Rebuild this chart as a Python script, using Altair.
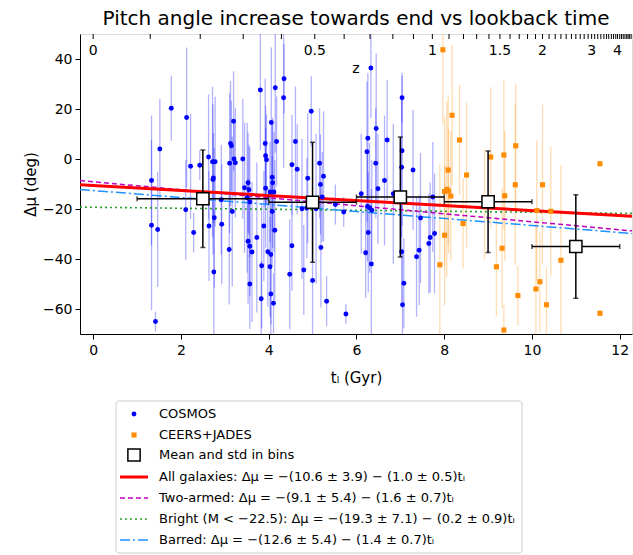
import altair as alt
import pandas as pd

# ---------------- data ----------------
cosmos_t = [1.33, 1.33, 1.42, 1.47, 1.52, 1.78, 2.13, 2.22, 2.11, 2.29, 2.43, 2.64, 2.63,
            2.72, 2.78, 2.74, 2.73, 2.76, 2.93, 2.75, 2.92, 3.20, 3.13, 3.15, 3.11, 3.21, 3.24,
            3.17, 3.10, 3.41, 3.53, 3.45, 3.55, 3.51, 3.57, 3.53, 3.57, 3.62, 3.57, 3.73, 3.81,
            3.83, 3.84, 3.89, 3.92, 3.93, 3.95, 3.93, 3.98, 4.05, 4.03, 4.05, 4.11, 4.06, 4.08,
            4.09, 4.03, 4.12, 4.14, 4.08, 4.15, 4.18, 4.35, 4.34, 4.53, 4.53, 4.48,
            4.61, 4.65, 4.97, 4.89, 4.76, 4.87, 4.80, 5.00, 5.16, 5.25, 5.18, 5.22, 5.08, 5.19,
            5.32, 5.52, 5.71, 5.76, 6.11, 6.26, 6.24, 6.33, 6.45, 6.44, 6.25, 6.30, 6.35, 6.27,
            6.21, 6.34, 6.49, 6.70, 6.64, 6.84, 7.04, 7.04, 7.03, 7.03, 7.08, 7.05, 7.29, 7.46,
            7.43, 7.37, 7.68, 7.65, 7.78, 7.74]
cosmos_mu = [-8.6, -26.5, -65.0, -28.2, 4.0, 20.3, 16.6, -2.9, -20.3, -29.4, -2.5, -26.8, 0.8,
             -1.1, -1.1, -7.6, -8.2, -23.5, -26.1, -45.2, -16.3, 15.1, 6.2, 5.3, -1.7, 0.0, -1.5,
             -21.0, -36.2, 0.0, -9.5, -11.5, -12.3, -15.5, -17.2, -32.9, -34.9, -37.2, -50.0, -31.4, 27.6,
             -55.9, -42.7, -26.8, 6.2, 1.3, -0.3, -11.7, -37.1, -38.2, -43.1, -54.0, -57.7, 14.6, -7.3,
             -9.5, -13.2, -13.2, -28.5, -21.0, 28.5, 7.0, 32.1, 24.5, -2.3, -34.7, -46.1,
             7.0, -4.1, 19.1, -7.7, -19.9, -19.6, -44.4, -48.6, -1.7, -6.9, -10.2, -15.2, -19.9, -35.4,
             -56.9, -18.2, -21.2, -62.0, -13.9, 8.3, 2.9, 36.4, 12.2, -1.7, -19.0, -19.5, -20.5, -29.4,
             -37.5, -42.0, -11.9, 7.6, -8.6, -13.9, 24.5, 3.3, -3.3, -37.1, -49.7, -58.3, -4.4, -23.6,
             -36.5, -39.1, -31.4, -33.8, -29.8, -15.2]
cosmos_err = [26, 34, 4, 23, 20, 13, 28, 21, 20, 8, 6, 22, 25,
              30, 26, 18, 30, 28, 24, 25, 22, 20, 25, 18, 28, 15, 22,
              30, 22, 24, 20, 26, 18, 30, 22, 25, 20, 28, 18, 30, 24,
              15, 25, 22, 26, 20, 18, 24, 22, 28, 20, 16, 12, 30, 22,
              26, 20, 24, 28, 22, 26, 18, 14, 28, 20, 18, 22,
              22, 18, 14, 26, 28, 20, 18, 24, 22, 26, 20, 18, 30, 24,
              10, 8, 6, 4, 24, 26, 28, 20, 30, 22, 22, 26, 20, 24,
              18, 30, 22, 24, 26, 28, 10, 30, 28, 20, 18, 22, 24, 26,
              22, 24, 22, 20, 24, 22]

ceers_t = [7.97, 8.18, 8.35, 8.09, 8.51, 8.06, 8.01, 8.15, 8.10, 8.43, 8.01, 7.90, 8.92,
           9.06, 9.36, 9.63, 9.62, 9.38, 9.32, 9.19, 9.68, 9.36, 10.11, 10.24, 10.43, 10.18,
           10.09, 10.33, 10.66, 11.55, 11.55]
ceers_mu = [43.7, 17.5, 7.6, -4.4, -6.4, -12.2, -13.0, -14.8, -12.8, -25.8, -30.5, -42.3, -18.2,
            0.8, 1.6, 5.3, -10.3, -14.7, -35.7, -43.1, -54.6, -68.4, -20.6, -10.3, -20.9, -49.1,
            -52.0, -58.3, -40.5, -1.9, -61.7]
ceers_err = [30, 28, 22, 30, 29, 35, 30, 26, 25, 18, 28, 40, 22,
             28, 30, 25, 32, 26, 24, 20, 12, 10, 28, 32, 26, 20,
             26, 15, 38, 1, 1]

bin_t = [2.5, 5.0, 7.0, 9.0, 11.0]
bin_mu = [-15.9, -17.3, -15.2, -17.1, -35.0]
bin_t_std = [1.5, 1.0, 1.0, 1.0, 1.0]
bin_mu_std = [19.5, 24.0, 24.0, 20.3, 20.7]

fit_names = ["All galaxies", "Two-armed", "Bright", "Barred"]
fit_intercept = [-10.6, -9.1, -19.3, -12.6]
fit_slope = [-1.0, -1.6, -0.2, -1.4]

# redshift ticks of the top axis (z = 0 ... 4.8 in steps of 0.1) as lookback time (Gyr)
z_tick_t = [0.0, 1.30, 2.44, 3.42, 4.29, 5.05, 5.72, 6.31, 6.83, 7.30,
            7.73, 8.11, 8.44, 8.74, 9.02, 9.27, 9.50, 9.71, 9.90, 10.08,
            10.24, 10.39, 10.53, 10.66, 10.78, 10.90, 11.00, 11.10, 11.19, 11.28,
            11.36, 11.43, 11.50, 11.57, 11.64, 11.70, 11.75, 11.81, 11.86, 11.91,
            11.95, 12.00, 12.04, 12.08, 12.12, 12.16, 12.19, 12.22, 12.26]
z_label_text = ["0", "0.5", "1", "1.5", "2", "3", "4"]
z_label_t = [0.0, 5.05, 7.73, 9.27, 10.24, 11.36, 11.95]

title_text = "Pitch angle increase towards end vs lookback time"
legend_labels = [
    "COSMOS",
    "CEERS+JADES",
    "Mean and std in bins",
    "All galaxies: Δμ = −(10.6 ± 3.9) − (1.0 ± 0.5)tₗ",
    "Two-armed: Δμ = −(9.1 ± 5.4) − (1.6 ± 0.7)tₗ",
    "Bright (M < −22.5): Δμ = −(19.3 ± 7.1) − (0.2 ± 0.9)tₗ",
    "Barred: Δμ = −(12.6 ± 5.4) − (1.4 ± 0.7)tₗ",
]

# ---------------- layout / style ----------------
W, H = 552, 300
PAD_L, PAD_T = 80, 34
IMG_W, IMG_H = 633, 555
XDOM = [-0.3, 12.28]
YDOM = [-70, 50]
FONT = "DejaVu Sans"
BLUE = "#0000ff"
ORANGE = "#ff8c00"

cos = pd.DataFrame({"t": cosmos_t, "mu": cosmos_mu, "err": cosmos_err})
cos["lo"] = cos["mu"] - cos["err"]
cos["hi"] = cos["mu"] + cos["err"]
cer = pd.DataFrame({"t": ceers_t, "mu": ceers_mu, "err": ceers_err})
cer["lo"] = cer["mu"] - cer["err"]
cer["hi"] = cer["mu"] + cer["err"]
bins = pd.DataFrame({"t": bin_t, "mu": bin_mu, "ts": bin_t_std, "ms": bin_mu_std})
bins["tlo"] = bins["t"] - bins["ts"]
bins["thi"] = bins["t"] + bins["ts"]
bins["mlo"] = bins["mu"] - bins["ms"]
bins["mhi"] = bins["mu"] + bins["ms"]

fit_rows = []
for n, a, b in zip(fit_names, fit_intercept, fit_slope):
    for tt in XDOM:
        fit_rows.append({"name": n, "t": tt, "mu": a + b * tt})
fits = pd.DataFrame(fit_rows)

xscale = alt.Scale(domain=XDOM, nice=False, zero=False)
yscale = alt.Scale(domain=YDOM, nice=False, zero=False)
common_ax = dict(grid=False, tickSize=5, tickWidth=1, tickColor="black", domainColor="black",
                 domainWidth=1, labelColor="black", titleColor="black", labelFontSize=14,
                 titleFontSize=15, labelFont=FONT, titleFont=FONT,
                 titleFontWeight="normal", format="d")
xaxis = alt.Axis(values=list(range(0, 13, 2)), title="tₗ (Gyr)", labelPadding=4, titlePadding=13, **common_ax)
yaxis = alt.Axis(values=list(range(-60, 41, 20)), title="Δμ (deg)", labelPadding=3, titlePadding=4, **common_ax)


def X(f):
    return alt.X(f, type="quantitative", scale=xscale, axis=xaxis)


def Y(f):
    return alt.Y(f, type="quantitative", scale=yscale, axis=yaxis)


cos_err = alt.Chart(cos).mark_rule(color=BLUE, opacity=0.3, strokeWidth=1.3, clip=True).encode(
    x=X("t"), y=Y("lo"), y2="hi")
cer_err = alt.Chart(cer).mark_rule(color=ORANGE, opacity=0.3, strokeWidth=1.3, clip=True).encode(
    x=X("t"), y=Y("lo"), y2="hi")

line_styles = {
    "All galaxies": dict(color="#ff0000", strokeWidth=3),
    "Two-armed": dict(color="#bf00bf", strokeWidth=1.5, strokeDash=[5, 3]),
    "Bright": dict(color="#2ca02c", strokeWidth=1.6, strokeDash=[2, 3]),
    "Barred": dict(color="#1e90ff", strokeWidth=1.5, strokeDash=[10, 3, 2, 3]),
}
fit_layers = []
for n in ["Bright", "Barred", "Two-armed", "All galaxies"]:
    fit_layers.append(
        alt.Chart(fits).transform_filter(alt.datum.name == n)
        .mark_line(clip=True, **line_styles[n]).encode(x=X("t"), y=Y("mu"))
    )

cos_pts = alt.Chart(cos).mark_circle(color=BLUE, size=24, opacity=1, clip=True).encode(x=X("t"), y=Y("mu"))
cer_pts = alt.Chart(cer).mark_square(color=ORANGE, size=26, opacity=1, clip=True).encode(x=X("t"), y=Y("mu"))

bin_v = alt.Chart(bins).mark_rule(color="black", strokeWidth=1.5, clip=True).encode(x=X("t"), y=Y("mlo"), y2="mhi")
bin_h = alt.Chart(bins).mark_rule(color="black", strokeWidth=1.5, clip=True).encode(x=X("tlo"), x2="thi", y=Y("mu"))
cap_lo = alt.Chart(bins).mark_tick(color="black", orient="horizontal", size=5, thickness=1.5).encode(x=X("t"), y=Y("mlo"))
cap_hi = alt.Chart(bins).mark_tick(color="black", orient="horizontal", size=5, thickness=1.5).encode(x=X("t"), y=Y("mhi"))
cap_l = alt.Chart(bins).mark_tick(color="black", orient="vertical", size=5, thickness=1.5).encode(x=X("tlo"), y=Y("mu"))
cap_r = alt.Chart(bins).mark_tick(color="black", orient="vertical", size=5, thickness=1.5).encode(x=X("thi"), y=Y("mu"))
bin_sq = alt.Chart(bins).mark_square(fill="white", stroke="black", strokeWidth=1.5, size=150, opacity=1).encode(
    x=X("t"), y=Y("mu"))

zt = pd.DataFrame({"t": z_tick_t})
zl = pd.DataFrame({"t": z_label_t, "lab": z_label_text})
z_ticks = alt.Chart(zt).mark_rule(color="black", strokeWidth=1).encode(
    x=X("t"), y=alt.value(0), y2=alt.value(5))
z_labels = alt.Chart(zl).mark_text(font=FONT, fontSize=14, color="black", baseline="middle", align="center").encode(
    x=X("t"), y=alt.value(17), text="lab:N")
z_title = alt.Chart(pd.DataFrame({"lab": ["z"]})).mark_text(
    font=FONT, fontSize=14, color="black", baseline="middle", align="center").encode(
    x=alt.value(276), y=alt.value(35), text="lab:N")
title_mark = alt.Chart(pd.DataFrame({"lab": [title_text]})).mark_text(
    font=FONT, fontSize=20, color="black", baseline="alphabetic", align="center").encode(
    x=alt.value(W / 2), y=alt.value(-9), text="lab:N")

main = alt.layer(cos_err, cer_err, *fit_layers, cos_pts, cer_pts, bin_v, bin_h,
                 cap_lo, cap_hi, cap_l, cap_r, bin_sq, z_ticks, z_labels, z_title, title_mark)

# ---------------- legend (drawn below the axes, in image pixel coordinates) ----------------
LX = alt.Scale(domain=[0, IMG_W], range=[-PAD_L, IMG_W - PAD_L], nice=False, zero=False)
LY = alt.Scale(domain=[0, IMG_H], range=[-PAD_T, IMG_H - PAD_T], nice=False, zero=False)
row_y = [414, 435, 455, 477, 498, 519, 540]
box_x0, box_x1, box_y0, box_y1 = 116, 522, 401, 553
handle_x0, handle_x1, handle_xc, text_x = 120, 148, 134, 159


def LXe(f):
    return alt.X(f, type="quantitative", scale=LX, axis=None)


def LYe(f):
    return alt.Y(f, type="quantitative", scale=LY, axis=None)


leg_box = alt.Chart(pd.DataFrame({"x0": [box_x0], "x1": [box_x1], "y0": [box_y0], "y1": [box_y1]})).mark_rect(
    fill="white", stroke="#cccccc", strokeWidth=1, cornerRadius=3).encode(
    x=LXe("x0"), x2="x1", y=LYe("y0"), y2="y1")
leg_text = alt.Chart(pd.DataFrame({"x": [text_x] * 7, "y": row_y, "lab": legend_labels})).mark_text(
    font=FONT, fontSize=13, color="black", align="left", baseline="middle").encode(
    x=LXe("x"), y=LYe("y"), text="lab:N")
leg_cos = alt.Chart(pd.DataFrame({"x": [handle_xc], "y": [row_y[0]]})).mark_circle(
    color=BLUE, size=24, opacity=1).encode(x=LXe("x"), y=LYe("y"))
leg_cer = alt.Chart(pd.DataFrame({"x": [handle_xc], "y": [row_y[1]]})).mark_square(
    color=ORANGE, size=26, opacity=1).encode(x=LXe("x"), y=LYe("y"))
leg_bin = alt.Chart(pd.DataFrame({"x": [handle_xc], "y": [row_y[2]]})).mark_square(
    fill="white", stroke="black", strokeWidth=1.5, size=150, opacity=1).encode(x=LXe("x"), y=LYe("y"))
leg_lines = []
for i, n in enumerate(["All galaxies", "Two-armed", "Bright", "Barred"]):
    leg_lines.append(
        alt.Chart(pd.DataFrame({"x0": [handle_x0], "x1": [handle_x1], "y": [row_y[3 + i]]}))
        .mark_rule(**line_styles[n]).encode(x=LXe("x0"), x2="x1", y=LYe("y"))
    )
legend = alt.layer(leg_box, leg_text, leg_cos, leg_cer, leg_bin, *leg_lines)

chart = alt.layer(main, legend).resolve_scale(x="independent", y="independent").properties(
    width=W, height=H,
    autosize=alt.AutoSizeParams(type="none"),
    padding={"left": PAD_L, "top": PAD_T, "right": IMG_W - PAD_L - W, "bottom": IMG_H - PAD_T - H},
).configure_view(stroke="black", strokeWidth=1).configure(font=FONT, background="white")

chart.save("out.html", embed_options={"renderer": "svg", "actions": False})
